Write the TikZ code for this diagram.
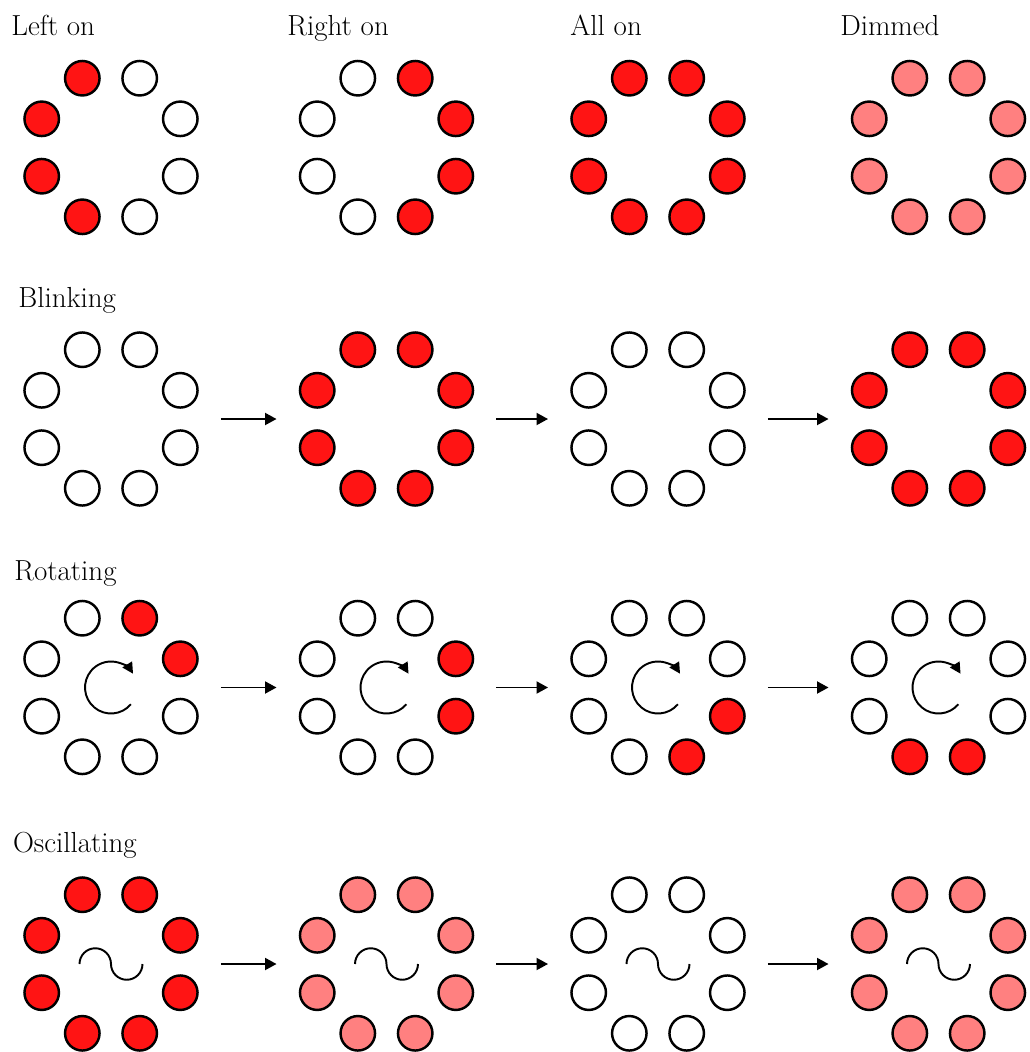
\documentclass[tikz,border=0pt]{standalone}
\usepackage{fontspec}
\usetikzlibrary{arrows.meta}
\definecolor{ledOn}{HTML}{FF1414}
\definecolor{ledDim}{HTML}{FF8080}
\definecolor{ledOff}{HTML}{FFFFFF}

% #1 name, #2 centre, #3 states of the eight leds
\newcommand{\ledring}[3]{%
  \node[ring] (#1) at (#2) {};
  \foreach \s [count=\k from 0] in {#3}
    \node[led,fill=led\s] (#1-\k) at ([shift={(22.5+45*\k:75)}]#1.center) {};
}

\begin{document}
\begin{tikzpicture}[x=0.02cm,y=0.02cm,
  led/.style={circle,draw,line width=1.4pt,minimum size=0.69cm,inner sep=0pt},
  ring/.style={circle,minimum size=4.4cm,inner sep=0pt,outer sep=0pt},
  flow/.style={line width=1.1pt,-{Triangle[length=0.23cm,width=0.24cm]}},
  spin/.style={line width=1.1pt,-{Triangle[length=0.22cm,width=0.22cm]}},
  wave/.style={line width=1.1pt},
  title/.style={anchor=base west,inner sep=0pt,font=\fontsize{16.5}{20}\selectfont}]
\useasboundingbox (0,0) rectangle (1029,-1052);

\node[title] (t-left) at (11,-35) {Left on};
\node[title] (t-right) at (287,-35) {Right on};
\node[title] (t-all) at (570,-35) {All on};
\node[title] (t-dim) at (840,-35) {Dimmed};
\ledring{r11}{111,-147.5}{Off,Off,On,On,On,On,Off,Off}
\ledring{r12}{386.5,-147.5}{On,On,Off,Off,Off,Off,On,On}
\ledring{r13}{658,-147.5}{On,On,On,On,On,On,On,On}
\ledring{r14}{938.5,-147.5}{Dim,Dim,Dim,Dim,Dim,Dim,Dim,Dim}

\node[title] (t-blink) at (18,-307) {Blinking};
\ledring{r21}{111,-419}{Off,Off,Off,Off,Off,Off,Off,Off}
\ledring{r22}{386.5,-419}{On,On,On,On,On,On,On,On}
\ledring{r23}{658,-419}{Off,Off,Off,Off,Off,Off,Off,Off}
\ledring{r24}{938.5,-419}{On,On,On,On,On,On,On,On}
\draw[flow] (r21) -- (r22);
\draw[flow] (r22) -- (r23);
\draw[flow] (r23) -- (r24);

\node[title] (t-rot) at (14,-580) {Rotating};
\ledring{r31}{111,-687.5}{On,On,Off,Off,Off,Off,Off,Off}
\ledring{r32}{386.5,-687.5}{On,Off,Off,Off,Off,Off,Off,On}
\ledring{r33}{658,-687.5}{Off,Off,Off,Off,Off,Off,On,On}
\ledring{r34}{938.5,-687.5}{Off,Off,Off,Off,Off,On,On,Off}
\foreach \r in {r31,r32,r33,r34}
  \draw[spin] ([shift={(-40:26)}]\r.center) arc[start angle=-40,end angle=-328,radius=0.52cm];
\draw[flow] (r31) -- (r32);
\draw[flow] (r32) -- (r33);
\draw[flow] (r33) -- (r34);

\node[title] (t-osc) at (12.7,-852) {Oscillating};
\ledring{r41}{111,-964}{On,On,On,On,On,On,On,On}
\ledring{r42}{386.5,-964}{Dim,Dim,Dim,Dim,Dim,Dim,Dim,Dim}
\ledring{r43}{658,-964}{Off,Off,Off,Off,Off,Off,Off,Off}
\ledring{r44}{938.5,-964}{Dim,Dim,Dim,Dim,Dim,Dim,Dim,Dim}
\foreach \r in {r41,r42,r43,r44}
  \draw[wave] (\r.center) ++(-31.5,0) arc[start angle=180,end angle=0,radius=0.315cm]
    arc[start angle=180,end angle=360,radius=0.315cm];
\draw[flow] (r41) -- (r42);
\draw[flow] (r42) -- (r43);
\draw[flow] (r43) -- (r44);
\end{tikzpicture}
\end{document}
